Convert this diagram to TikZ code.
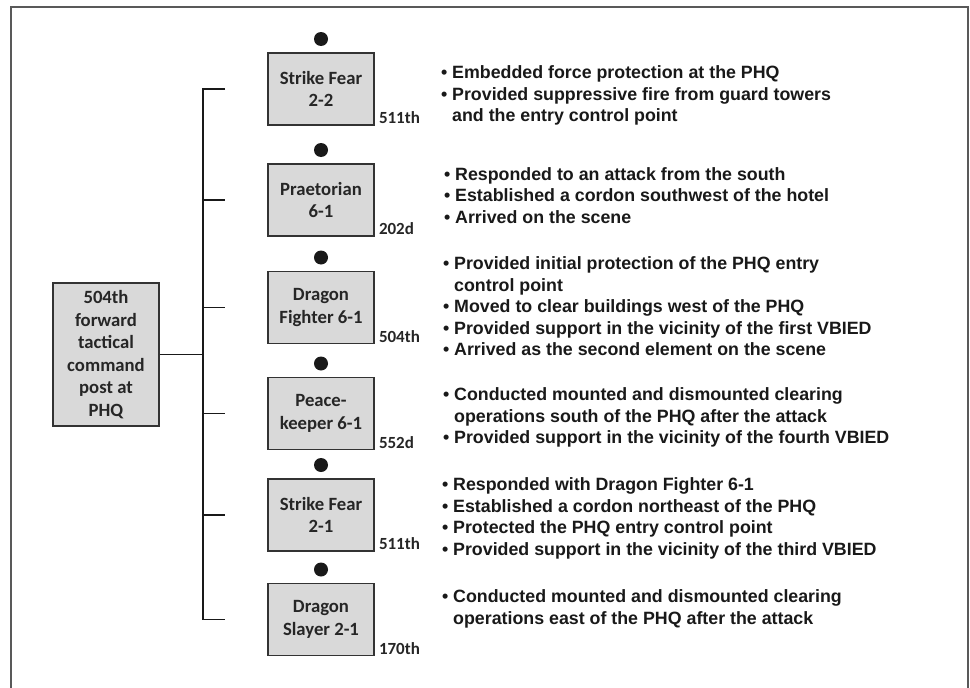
\documentclass[tikz,border=0pt]{standalone}
\usepackage{fontspec}
\setmainfont{Liberation Sans}
\newfontfamily\boxfont{Carlito}
\usepackage{tikz}
\usetikzlibrary{positioning}

\newcommand{\itm}{\makebox[11pt][l]{\textbullet}}
\newcommand{\cnt}{\makebox[11pt]{}}

\begin{document}
\begin{tikzpicture}[x=1pt,y=-1pt,
    box/.style={draw=black!80, line width=1.6pt, fill=black!15, minimum width=106pt, minimum height=72pt, inner sep=2pt, align=center, text=black!85, font=\boxfont\bfseries\fontsize{18.7}{22.5}\selectfont},
    dotnode/.style={circle, fill=black!90, minimum size=14pt, inner sep=0pt},
    tag/.style={anchor=south west, inner sep=0pt, xshift=4pt, yshift=1.5pt, text=black!85, font=\boxfont\bfseries\fontsize{17}{20}\selectfont},
    notes/.style={anchor=west, align=left, inner sep=0pt, text=black!90, font=\bfseries\fontsize{17.8}{21.5}\selectfont},
    link/.style={draw=black!90, line width=1.6pt},
    frame/.style={draw=black!65, line width=1.8pt}]
\useasboundingbox (0,0) rectangle (970,688);
\fill[white] (0,0) rectangle (970,688);
\draw[frame] (11,688) -- (11,7) -- (968,7) -- (968,688);

% command post and the six elements
\node[box, minimum height=143pt] (hq) at (106,354.5) {504th\\forward\\tactical\\command\\post at\\PHQ};
\node[box] (sf22) at (321,89) {Strike Fear\\2-2};
\node[box] (pr61) at (321,200) {Praetorian\\6-1};
\node[box] (df61) at (321,307.5) {Dragon\\Fighter 6-1};
\node[box] (pk61) at (321,413.5) {Peace-\\keeper 6-1};
\node[box] (sf21) at (321,515) {Strike Fear\\2-1};
\node[box] (ds21) at (321,619.5) {Dragon\\Slayer 2-1};

\node[dotnode, above=6pt of sf22] (d1) {};
\node[dotnode, above=6pt of pr61] (d2) {};
\node[dotnode, above=6pt of df61] (d3) {};
\node[dotnode, above=6pt of pk61] (d4) {};
\node[dotnode, above=6pt of sf21] (d5) {};
\node[dotnode, above=6pt of ds21] (d6) {};

\node[tag] (u1) at (sf22.south east) {511th};
\node[tag] (u2) at (pr61.south east) {202d};
\node[tag] (u3) at (df61.south east) {504th};
\node[tag] (u4) at (pk61.south east) {552d};
\node[tag] (u5) at (sf21.south east) {511th};
\node[tag] (u6) at (ds21.south east) {170th};

% bracket
\coordinate (busx) at (203,0);
\coordinate (tickx) at (225,0);
\draw[link] (sf22.west -| tickx) -- (sf22.west -| busx) -- (ds21.west -| busx) -- (ds21.west -| tickx);
\foreach \b in {pr61,df61,pk61,sf21}
  \draw[link] (\b.west -| busx) -- (\b.west -| tickx);
\draw[link] (hq.east) -- (hq.east -| busx);

% what each element did
\node[notes] (n1) at (441,95.5) {\itm Embedded force protection at the PHQ\\
  \itm Provided suppressive fire from guard towers\\
  \cnt and the entry control point};
\node[notes] (n2) at (444,195.5) {\itm Responded to an attack from the south\\
  \itm Established a cordon southwest of the hotel\\
  \itm Arrived on the scene};
\node[notes] (n3) at (443,306.5) {\itm Provided initial protection of the PHQ entry\\
  \cnt control point\\
  \itm Moved to clear buildings west of the PHQ\\
  \itm Provided support in the vicinity of the first VBIED\\
  \itm Arrived as the second element on the scene};
\node[notes] (n4) at (443,417.5) {\itm Conducted mounted and dismounted clearing\\
  \cnt operations south of the PHQ after the attack\\
  \itm Provided support in the vicinity of the fourth VBIED};
\node[notes] (n5) at (442,518.5) {\itm Responded with Dragon Fighter 6-1\\
  \itm Established a cordon northeast of the PHQ\\
  \itm Protected the PHQ entry control point\\
  \itm Provided support in the vicinity of the third VBIED};
\node[notes] (n6) at (442,609) {\itm Conducted mounted and dismounted clearing\\
  \cnt operations east of the PHQ after the attack};
\end{tikzpicture}
\end{document}
